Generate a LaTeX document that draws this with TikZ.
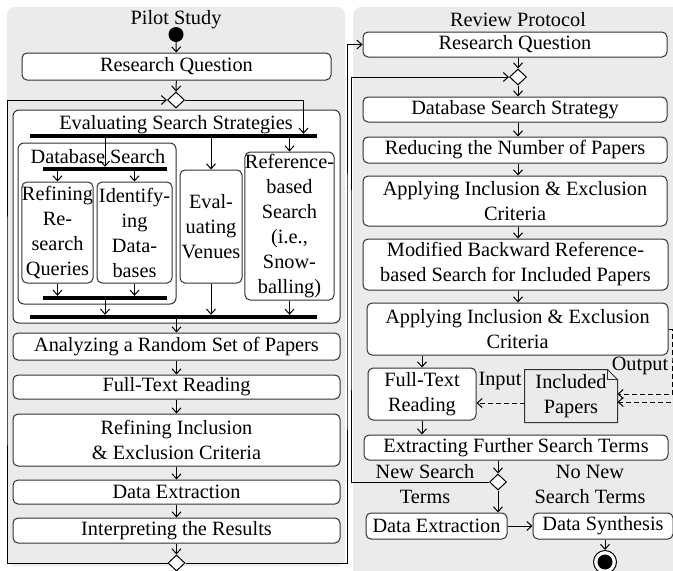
\documentclass[tikz,border=0pt]{standalone}
\usepackage{fontspec}
\setmainfont{Liberation Serif}
\usepackage{xcolor}
\usepackage{tikz}
\usetikzlibrary{shapes.geometric, arrows.meta, positioning, calc}
\definecolor{lanegray}{RGB}{235, 235, 235}
\definecolor{edge}{RGB}{50, 50, 50}
\tikzset{
    swimlane/.style={rectangle, rounded corners=8pt, fill=lanegray, inner sep=0pt},
    action/.style={rectangle, rounded corners=5pt, draw=edge, fill=white, line width=1pt, inner sep=0pt, align=center, font=\fontsize{20.3}{25}\selectfont},
    region/.style={rectangle, rounded corners=6pt, draw=edge, fill=white, line width=1pt, inner sep=0pt},
    textlabel/.style={align=center, inner sep=0pt, font=\fontsize{20.3}{25}\selectfont},
    bar/.style={rectangle, fill=black, inner sep=0pt, minimum height=4pt},
    choice/.style={diamond, draw, fill=white, line width=1pt, inner sep=0pt, minimum width=17pt, minimum height=16pt},
    initnode/.style={circle, fill=black, inner sep=0pt, minimum size=15pt},
    finalnode/.style={circle, draw, line width=1pt, fill=white, inner sep=0pt, minimum size=23pt,
        path picture={\fill[black] (path picture bounding box.center) circle (7.5pt);}},
    line/.style={draw, -{Straight Barb[length=5pt, width=9pt]}, line width=1pt},
    dataline/.style={line, dash pattern=on 5pt off 3pt},
    docline/.style={draw=edge, line width=1pt}
}

\begin{document}
\begin{tikzpicture}[x=1pt, y=-1pt]
    \useasboundingbox (0,0) rectangle (673,571);

    % Lanes
    \node [swimlane, minimum width=338, minimum height=559] (pilot) at (176,286.5) {};
    \node [swimlane, minimum width=332, minimum height=578] (review) at (519,296) {};
    \node [textlabel] (pilottitle) at (176,20) {Pilot Study};
    \node [textlabel] (reviewtitle) at (518,20) {Review Protocol};

    % Pilot study
    \node [initnode] (init) at (176,34.5) {};
    \node [action, minimum width=309, minimum height=27] (rq1) at (176.5,66.5) {Research Question};
    \node [choice] (d1) at (176,100) {};

    \node [region, minimum width=327, minimum height=213] (ess) at (176.5,216.5) {};
    \node [textlabel] (esstitle) at (176,125) {Evaluating Search Strategies};
    \node [bar, minimum width=287] (fork1) at (173.5,136) {};

    \node [region, minimum width=158, minimum height=161] (dbs) at (97,223.5) {};
    \node [textlabel] (dbstitle) at (98,157) {Database Search};
    \node [bar, minimum width=124] (fork2) at (105,169) {};
    \node [action, minimum width=71, minimum height=101] (rrq) at (57.5,232.5) {Refining\\Re-\\search\\Queries};
    \node [action, minimum width=75, minimum height=101] (idb) at (134.5,232.5) {Identify-\\ing\\Data-\\bases};
    \node [bar, minimum width=124] (join2) at (105,298) {};

    \node [action, minimum width=62, minimum height=113] (ev) at (211,226.5) {Eval-\\uating\\Venues};
    \node [action, minimum width=87, minimum height=148] (rbs) at (289.5,226) {Reference-\\based\\Search\\(i.e.,\\Snow-\\balling)};
    \node [bar, minimum width=287] (join1) at (173.5,317) {};

    \node [action, minimum width=327, minimum height=27] (an1) at (176.5,346.5) {Analyzing a Random Set of Papers};
    \node [action, minimum width=327, minimum height=24] (ftr1) at (176.5,387) {Full-Text Reading};
    \node [action, minimum width=327, minimum height=52] (ref1) at (176.5,440) {Refining Inclusion\\\& Exclusion Criteria};
    \node [action, minimum width=327, minimum height=24] (de1) at (176.5,492) {Data Extraction};
    \node [action, minimum width=327, minimum height=25] (ir) at (176.5,530.5) {Interpreting the Results};
    \node [choice] (d2) at (176.5,563) {};

    % Review protocol
    \node [action, minimum width=304, minimum height=25] (rq2) at (515,44.5) {Research Question};
    \node [choice] (d3) at (518,77) {};
    \node [action, minimum width=304, minimum height=25] (dss) at (515,109.5) {Database Search Strategy};
    \node [action, minimum width=304, minimum height=26] (rnp) at (515,150) {Reducing the Number of Papers};
    \node [action, minimum width=304, minimum height=50] (aie1) at (515,201) {Applying Inclusion \& Exclusion\\Criteria};
    \node [action, minimum width=305, minimum height=51] (mbr) at (515.5,264.5) {Modified Backward Reference-\\based Search for Included Papers};
    \node [action, minimum width=301, minimum height=52] (aie2) at (517.5,329) {Applying Inclusion \& Exclusion\\Criteria};
    \node [action, minimum width=108, minimum height=52] (ftr2) at (422,394) {Full-Text\\Reading};
    \node [action, draw=none, fill=none, minimum width=92, minimum height=52] (inc) at (571,396) {Included\\Papers};
    \node [action, minimum width=304, minimum height=25] (efst) at (516,447.5) {Extracting Further Search Terms};
    \node [choice] (d4) at (498,482) {};
    \node [action, minimum width=141, minimum height=26] (de2) at (436.5,526) {Data Extraction};
    \node [action, minimum width=140, minimum height=26] (ds) at (603,526) {Data Synthesis};
    \node [finalnode] (final) at (605,562) {};

    \node [textlabel] (inlabel) at (500,381) {Input};
    \node [textlabel] (outlabel) at (640,366) {Output};
    \node [textlabel] (newterms) at (425,484) {New Search\\Terms};
    \node [textlabel] (nonew) at (590,484) {No New\\Search Terms};

    % document outline with folded corner
    \draw [docline] (inc.south west) -- (inc.north west) -- ([xshift=-10]inc.north east)
        -- ([yshift=-10]inc.north east) -- (inc.south east) -- cycle;
    \draw [docline] ([xshift=-10]inc.north east) |- ([yshift=-10]inc.north east);

    \coordinate (backL) at (7,330);
    \coordinate (crossR) at (347,300);
    \coordinate (backR) at (351,300);
    \coordinate (outA) at (672,360);
    \coordinate (outB) at (677,360);

    % Draws
    \draw [line] (init) -- (rq1);
    \draw [line] (rq1) -- (d1);
    \draw [line] (d1.east) -| ([xshift=130]fork1.north);
    \draw [line] (fork1.south -| fork2.north) -- (fork2.north);
    \draw [line] (fork2.south -| rrq.north) -- (rrq.north);
    \draw [line] (fork2.south -| idb.north) -- (idb.north);
    \draw [line] (rrq.south) -- (rrq.south |- join2.north);
    \draw [line] (idb.south) -- (idb.south |- join2.north);
    \draw [line] (join2.south) -- (join2.south |- join1.north);
    \draw [line] (fork1.south -| ev.north) -- (ev.north);
    \draw [line] (fork1.south -| rbs.north) -- (rbs.north);
    \draw [line] (ev.south) -- (ev.south |- join1.north);
    \draw [line] (rbs.south) -- (rbs.south |- join1.north);
    \draw [line] (join1.south -| an1.north) -- (an1.north);
    \draw [line] (an1) -- (ftr1);
    \draw [line] (ftr1) -- (ref1);
    \draw [line] (ref1) -- (de1);
    \draw [line] (de1) -- (ir);
    \draw [line] (ir) -- (d2);
    \draw [line] (d2.west) -| (backL) |- (d1.west);
    \draw [line] (d2.east) -| (crossR) |- (rq2.west);

    \draw [line] (rq2.south -| d3.north) -- (d3.north);
    \draw [line] (d3.south) -- (d3.south |- dss.north);
    \draw [line] (dss.south -| d3.south) -- (rnp.north -| d3.south);
    \draw [line] (rnp.south -| d3.south) -- (aie1.north -| d3.south);
    \draw [line] (aie1.south -| d3.south) -- (mbr.north -| d3.south);
    \draw [line] (mbr.south -| d3.south) -- (aie2.north -| d3.south);
    \draw [line] (aie2.south -| ftr2.north) -- (ftr2.north);
    \draw [line] (ftr2.south) -- (ftr2.south |- efst.north);
    \draw [line] (efst.south -| d4.north) -- (d4.north);
    \draw [line] (d4.south) -- (d4.south |- de2.north);
    \draw [line] (d4.west) -| (backR) |- (d3.west);
    \draw [line] (de2) -- (ds);
    \draw [line] (ds.south -| final.north) -- (final.north);

    \draw [dataline] ([yshift=-7]inc.west) -- ([yshift=-7]inc.west -| ftr2.east);
    \draw [dataline] (aie2.east) -| (outA) |- ([yshift=2]inc.east);
    \draw [dataline] (aie2.east) -| (outB) |- ([yshift=-6]inc.east);

\end{tikzpicture}
\end{document}
